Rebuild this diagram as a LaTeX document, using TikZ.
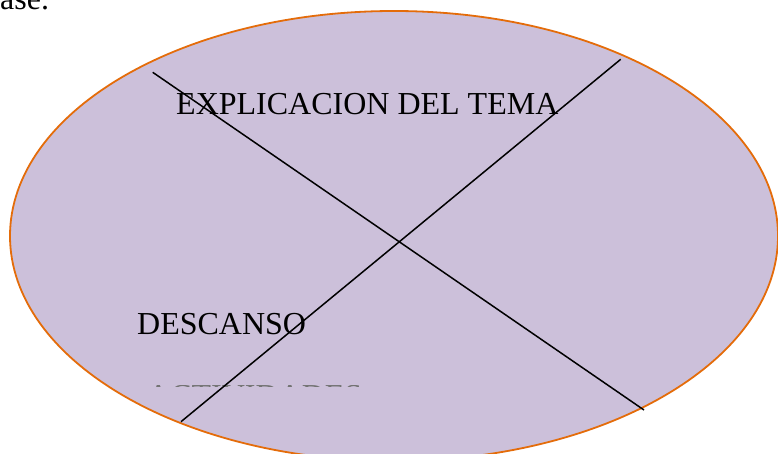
\documentclass[tikz,border=0pt]{standalone}
\usepackage{fontspec}
\setmainfont{Liberation Serif}
\usepackage{xcolor}
\usepackage{tikz}
\definecolor{lila}{RGB}{204,192,218}
\definecolor{naranja}{RGB}{228,108,10}

\begin{document}
\begin{tikzpicture}
			[x=1pt,y=-1pt,every node/.style={inner sep=0pt,anchor=base west,font=\fontsize{32}{38}\selectfont}]
				\clip (0,0) rectangle (778,454);
				\node (txt) at (0,9.5) {ase.};
				\draw[naranja,fill=lila,line width=1.8pt] (394,236) ellipse [x radius=384,y radius=225];
				\node (tema) at (176,114.3) {EXPLICACION DEL TEMA};
				\node (desc) at (137,334.3) {DESCANSO};
				\begin{scope} % solo se ve una franja
				\clip (0,385.3) rectangle (778,386.7);
				\node[text=black!55] (act) at (147,406.5) {ACTIVIDADES};
				\end{scope}
				\coordinate (a1) at (152.7,72.3);
				\coordinate (a2) at (644,410);
				\coordinate (b1) at (620.7,59.3);
				\coordinate (b2) at (181,421.7);
				\foreach \from/\to in {a1/a2,b1/b2}
				\draw[line width=1.5pt] (\from) -- (\to);
			\end{tikzpicture}
\end{document}
